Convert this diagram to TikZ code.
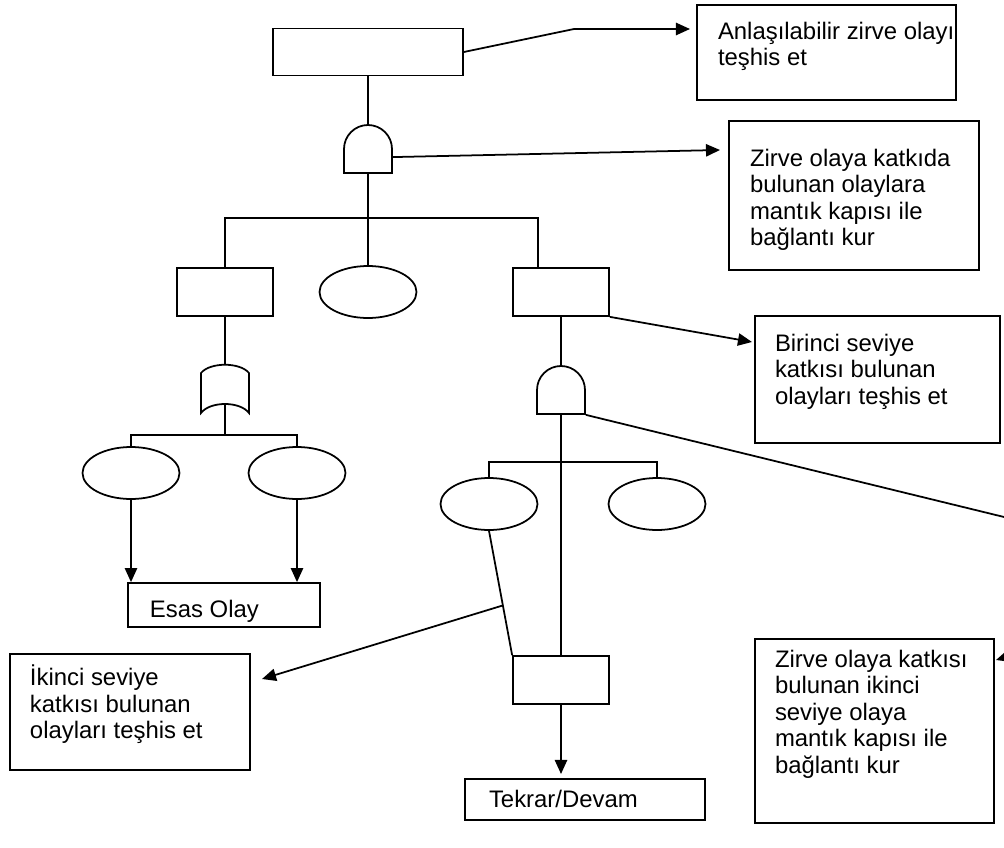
\documentclass[tikz,border=0pt]{standalone}
\usepackage{fontspec}
\setmainfont{Liberation Sans}
\usepackage{tikz}
\usetikzlibrary{calc, positioning, arrows.meta, shapes.geometric, fit}

\tikzset{
    event/.style={draw, rectangle, minimum width=1.92cm, minimum height=0.96cm, inner sep=0pt},
    topevent/.style={event, minimum width=3.8cm, minimum height=0.94cm},
    basic/.style={draw, ellipse, minimum width=1.94cm, minimum height=1.04cm, inner sep=0pt},
    gate/.style={minimum size=0.96cm, inner sep=0pt},
    note/.style={draw, rectangle, inner sep=0pt},
    notetext/.style={anchor=north west, inner sep=0pt, align=left, font=\fontsize{13.6}{15.1}\selectfont},
    conn/.style={-{Triangle[length=8pt,width=7pt]}},
}

% gate outlines, drawn round a gate node
\newcommand{\andshape}[1]{%
    \draw[shift={(#1.center)}] (-24,24) -- (-24,0) .. controls (-24,-13.25) and (-13.25,-24) .. (0,-24)
        .. controls (13.25,-24) and (24,-13.25) .. (24,0) -- (24,24) -- cycle;}
\newcommand{\orshape}[1]{%
    \draw[shift={(#1.center)}] (-24,24) -- (-24,-16) .. controls (-15,-27) and (15,-27) .. (24,-16)
        -- (24,24) .. controls (15,12) and (-15,12) .. cycle;}

\begin{document}
\begin{tikzpicture}[x=0.02cm, y=-0.02cm, line width=1pt]
    \useasboundingbox (0,0) rectangle (1004,848);
    \clip (0,0) rectangle (1004,848);

    % fault tree
    \node[topevent] (top) at (368,52) {};
    \node[gate] (and1) at (368,149) {};
    \node[event] (ev1) at (225,292) {};
    \node[basic] (b1) at (368,292) {};
    \node[event] (ev2) at (561,292) {};
    \node[gate] (or1) at (225,389) {};
    \node[gate] (and2) at (561,390) {};
    \node[basic] (b2) at (131,473) {};
    \node[basic] (b3) at (297,473) {};
    \node[basic] (b4) at (489,504) {};
    \node[basic] (b5) at (657,504) {};
    \node[event] (ev3) at (561,680) {};
    \andshape{and1}
    \andshape{and2}
    \orshape{or1}

    % explanation boxes
    \node[note, fit={(697,5) (956,100)},
        label={[notetext, xshift=0.42cm, yshift=-0.34cm]north west:{Anlaşılabilir zirve olayı\\teşhis et}}] (stepA) {};
    \node[note, fit={(729,121) (979,270)},
        label={[notetext, xshift=0.42cm, yshift=-0.56cm]north west:{Zirve olaya katkıda\\bulunan olaylara\\mantık kapısı ile\\bağlantı kur}}] (stepB) {};
    \node[note, fit={(755,316) (1000,443)},
        label={[notetext, xshift=0.4cm, yshift=-0.36cm]north west:{Birinci seviye\\katkısı bulunan\\olayları teşhis et}}] (stepC) {};
    \node[note, fit={(128,583) (320,627)},
        label={[notetext, xshift=0.44cm, yshift=-0.34cm]north west:{Esas Olay}}] (esas) {};
    \node[note, fit={(10,654) (250,770)},
        label={[notetext, xshift=0.4cm, yshift=-0.22cm]north west:{İkinci seviye\\katkısı bulunan\\olayları teşhis et}}] (stepD) {};
    \node[note, fit={(755,639) (994,823)},
        label={[notetext, xshift=0.4cm, yshift=-0.22cm]north west:{Zirve olaya katkısı\\bulunan ikinci\\seviye olaya\\mantık kapısı ile\\bağlantı kur}}] (stepE) {};
    \node[note, fit={(465,779) (705,820)},
        label={[notetext, xshift=0.48cm, yshift=-0.22cm]north west:{Tekrar/Devam}}] (again) {};

    % connections in the tree
    \coordinate (hub1) at (368,218);
    \coordinate (hub2) at (225,435);
    \coordinate (hub3) at (561,462);
    \draw (top.south) -- (and1.north);
    \draw (and1.south) -- (b1.north);
    \draw (ev1.north) |- (hub1) -| ([xshift=-0.46cm]ev2.north);
    \draw (ev1.south) -- (or1.north);
    \draw (ev2.south) -- (and2.north);
    \draw ([yshift=0.18cm]or1.south) -- (hub2);
    \draw (b2.north) |- (hub2) -| (b3.north);
    \draw[conn] (b2.south) -- (b2.south |- esas.north);
    \draw[conn] (b3.south) -- (b3.south |- esas.north);
    \draw (and2.south) -- (ev3.north);
    \draw (b4.north) |- (hub3) -| (b5.north);
    \draw (b4.south) -- (ev3.north west);

    % pointers to the explanation boxes
    \coordinate (bendA) at (574,29);
    \coordinate (tipA) at (690,29);
    \coordinate (tipB) at (720,150);
    \coordinate (tipC) at (752,342);
    \coordinate (join) at ($(b4.south)!0.6!(ev3.north west)$);
    \coordinate (tipD) at (262,679);
    \coordinate (tipE) at (561,774);
    \coordinate (offA) at (1045,527);
    \coordinate (offB) at (1045,645);
    \coordinate (tipF) at (996,660);
    \draw[conn] (top.east) -- (bendA) -- (tipA);
    \draw[conn] (and1.-18) -- (tipB);
    \draw[conn] (ev2.south east) -- (tipC);
    \draw[conn] (join) -- (tipD);
    \draw[conn] (ev3.south) -- (tipE);
    \draw[conn] (and2.south east) -- (offA) -- (offB) -- (tipF);
\end{tikzpicture}
\end{document}
